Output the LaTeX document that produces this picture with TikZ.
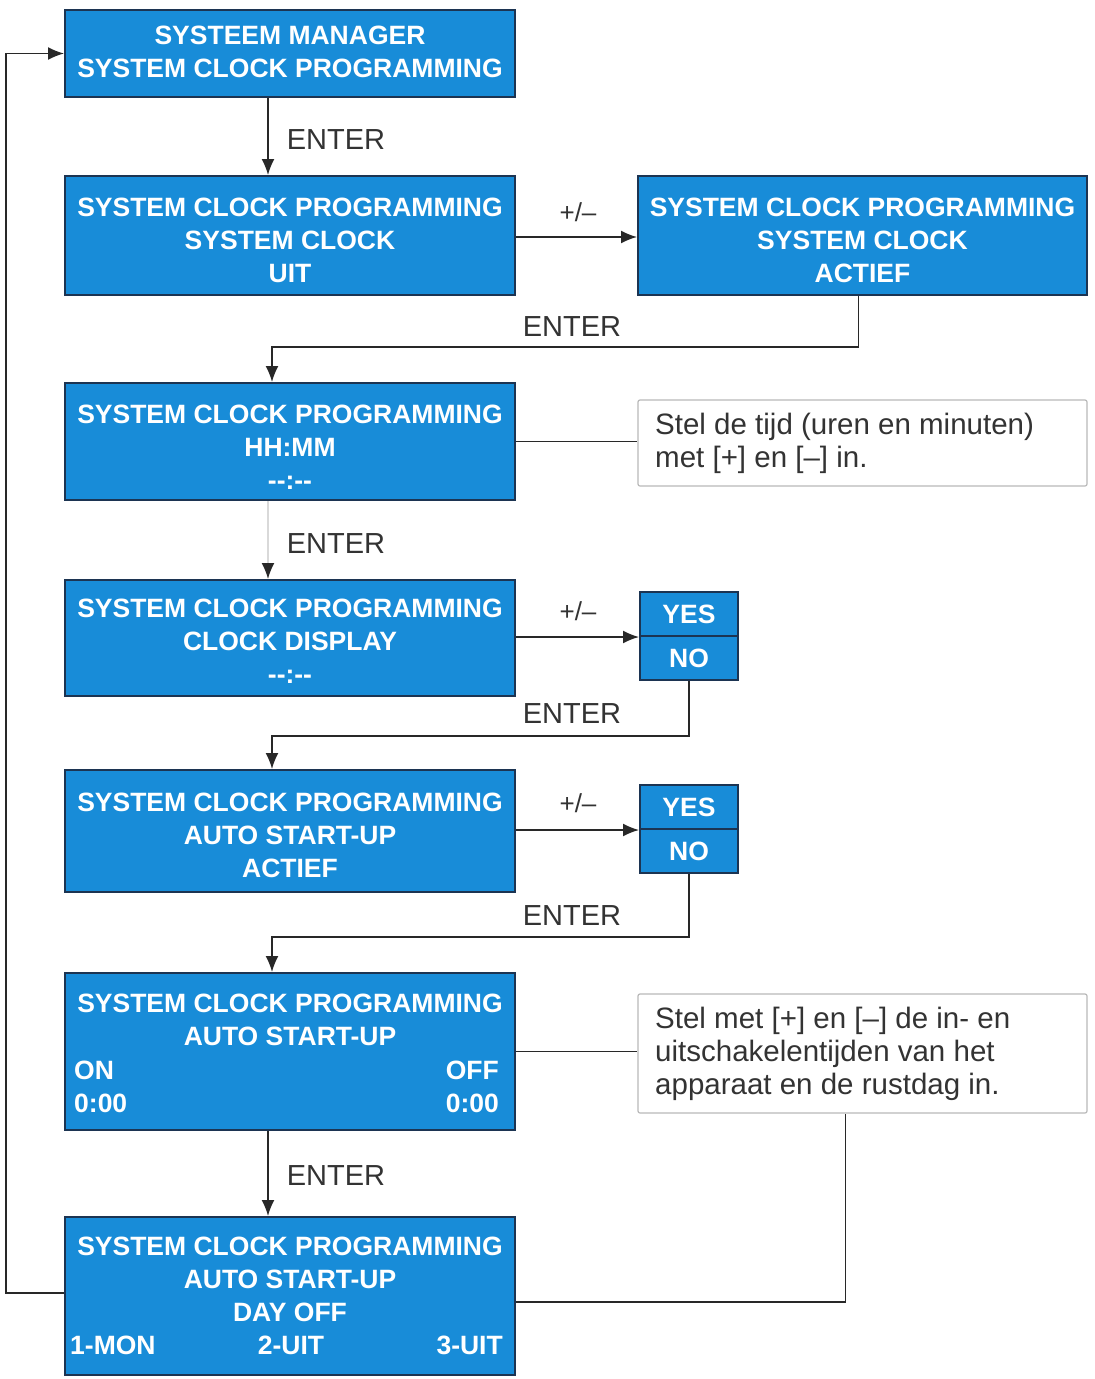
\documentclass[tikz,border=0pt]{standalone}
\usepackage{fontspec}
\setmainfont{Liberation Sans}
\usetikzlibrary{arrows.meta,calc}
\definecolor{boxblue}{RGB}{24,140,216}
\definecolor{boxedge}{RGB}{28,52,82}
\definecolor{linecol}{RGB}{40,40,40}
\begin{document}
\begin{tikzpicture}[x=1pt,y=-1pt,
  box/.style={draw=boxedge, line width=2pt, fill=boxblue, inner sep=0pt},
  btxt/.style={text=white, font=\fontsize{26.5}{33}\selectfont\bfseries, align=center, inner sep=0pt},
  note/.style={draw=gray!55, line width=1.2pt, rounded corners=2pt, fill=white, inner sep=0pt},
  ntxt/.style={text=black!80, font=\fontsize{29.5}{33}\selectfont, align=left, anchor=west, inner sep=0pt},
  lbl/.style={text=black!80, font=\fontsize{29}{30}\selectfont, inner sep=0pt},
  pm/.style={text=black!80, font=\fontsize{26}{28}\selectfont, inner sep=0pt},
  conn/.style={draw=linecol, line width=1.6pt},
  arr/.style={conn, -{Latex[length=16pt,width=13pt]}},
  lightarr/.style={draw=gray!30, line width=1.6pt, -{Latex[length=16pt,width=13pt,color=linecol]}}]
\useasboundingbox (0,0) rectangle (1095,1379);

% boxes
\node[box, minimum width=450pt, minimum height=87pt]  (b1) at (290,53.5) {};
\node[box, minimum width=450pt, minimum height=119pt] (b2) at (290,235.5) {};
\node[box, minimum width=449pt, minimum height=119pt] (b3) at (862.5,235.5) {};
\node[box, minimum width=450pt, minimum height=117pt] (b4) at (290,441.5) {};
\node[box, minimum width=450pt, minimum height=116pt] (b5) at (290,638) {};
\node[box, minimum width=450pt, minimum height=122pt] (b6) at (290,831) {};
\node[box, minimum width=450pt, minimum height=157pt] (b7) at (290,1051.5) {};
\node[box, minimum width=450pt, minimum height=158pt] (b8) at (290,1296) {};

\node[box, minimum width=98pt, minimum height=44pt] (y1) at (689,614) {};
\node[box, minimum width=98pt, minimum height=44pt] (n1) at (689,658) {};
\node[box, minimum width=98pt, minimum height=44pt] (y2) at (689,807) {};
\node[box, minimum width=98pt, minimum height=44pt] (n2) at (689,851) {};

\node[note, minimum width=449pt, minimum height=86pt]  (c1) at (862.5,443) {};
\node[note, minimum width=449pt, minimum height=119pt] (c2) at (862.5,1053.5) {};

% box texts
\node[btxt] (t1) at (290,52) {SYSTEEM MANAGER\\SYSTEM CLOCK PROGRAMMING};
\node[btxt] (t2) at (290,240) {SYSTEM CLOCK PROGRAMMING\\SYSTEM CLOCK\\UIT};
\node[btxt] (t3) at (862.5,240) {SYSTEM CLOCK PROGRAMMING\\SYSTEM CLOCK\\ACTIEF};
\node[btxt] (t4) at (290,447.5) {SYSTEM CLOCK PROGRAMMING\\HH:MM\\{-}{-}:{-}{-}};
\node[btxt] (t5) at (290,641) {SYSTEM CLOCK PROGRAMMING\\CLOCK DISPLAY\\{-}{-}:{-}{-}};
\node[btxt] (t6) at (290,835) {SYSTEM CLOCK PROGRAMMING\\AUTO START-UP\\ACTIEF};
\node[btxt] (t7) at (290,1019.5) {SYSTEM CLOCK PROGRAMMING\\AUTO START-UP};
\node[btxt, anchor=west] (t7a) at (74,1070) {ON};
\node[btxt, anchor=east] (t7b) at (499,1070) {OFF};
\node[btxt, anchor=west] (t7c) at (74,1103) {0:00};
\node[btxt, anchor=east] (t7d) at (499,1103) {0:00};
\node[btxt] (t8) at (290,1279) {SYSTEM CLOCK PROGRAMMING\\AUTO START-UP\\DAY OFF};
\node[btxt, anchor=west] (t8a) at (70,1345) {1-MON};
\node[btxt] (t8b) at (291,1345) {2-UIT};
\node[btxt, anchor=east] (t8c) at (503,1345) {3-UIT};
\node[btxt] (ty1) at (y1) {YES};
\node[btxt] (tn1) at (n1) {NO};
\node[btxt] (ty2) at (y2) {YES};
\node[btxt] (tn2) at (n2) {NO};

% notes
\node[ntxt] (nt1) at (655,443) {Stel de tijd (uren en minuten)\\met [+] en [–] in.};
\node[ntxt] (nt2) at (655,1054) {Stel met [+] en [–] de in- en\\uitschakelentijden van het\\apparaat en de rustdag in.};

% connectors
\draw[arr] ([xshift=-22pt]b1.south) -- ([xshift=-22pt]b2.north);
\draw[arr] (b2.east |- 0,237) -- (b3.west |- 0,237);
\draw[arr] ([xshift=-4pt]b3.south) -- ++(0,51) -| ([xshift=-18pt]b4.north);
\draw[conn] (b4.east) -- (b4.east -| c1.west);
\draw[lightarr] ([xshift=-22pt]b4.south) -- ([xshift=-22pt]b5.north);
\draw[arr] (b5.east |- y1.south west) -- (y1.south west);
\draw[arr] (n1.south) -- ++(0,55) -| ([xshift=-18pt]b6.north);
\draw[arr] (b6.east |- y2.south west) -- (y2.south west);
\draw[arr] (n2.south) -- ++(0,63) -| ([xshift=-18pt]b7.north);
\draw[conn] (b7.east) -- (b7.east -| c2.west);
\draw[arr] ([xshift=-22pt]b7.south) -- ([xshift=-22pt]b8.north);
\draw[conn] ([yshift=-6pt]b8.east) -| ([xshift=-17pt]c2.south);
\draw[arr] ([yshift=3pt]b8.west) -- ++(-58,0) |- (b1.west);

% labels
\node[lbl] (e1) at (336,140) {ENTER};
\node[lbl] (e2) at (572,327) {ENTER};
\node[lbl] (e3) at (336,544) {ENTER};
\node[lbl] (e4) at (572,714) {ENTER};
\node[lbl] (e5) at (572,916) {ENTER};
\node[lbl] (e6) at (336,1176) {ENTER};
\node[pm] (p1) at (578,212) {+/–};
\node[pm] (p2) at (578,611) {+/–};
\node[pm] (p3) at (578,803) {+/–};
\end{tikzpicture}
\end{document}
